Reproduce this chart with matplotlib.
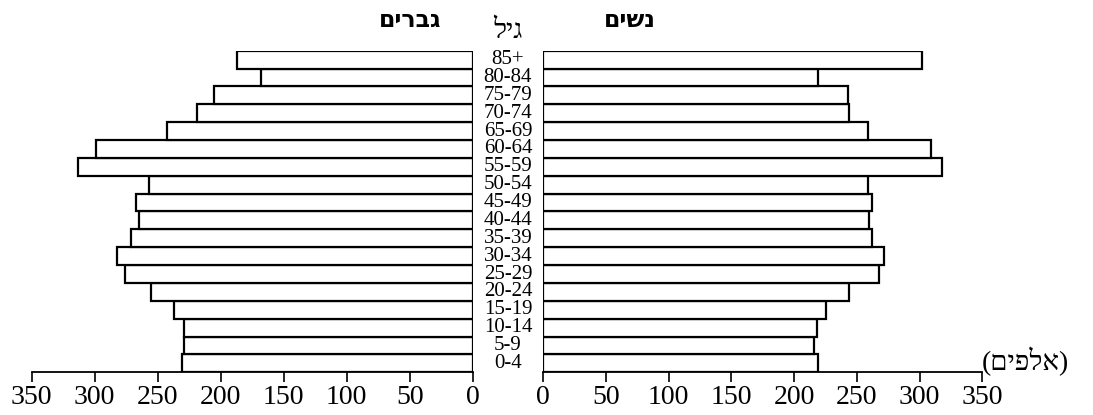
import matplotlib.pyplot as plt
import matplotlib.transforms as mtransforms

ages = ['0-4', '5-9', '10-14', '15-19', '20-24', '25-29', '30-34', '35-39', '40-44',
        '45-49', '50-54', '55-59', '60-64', '65-69', '70-74', '75-79', '80-84', '85+']
men = [231, 229, 229, 237, 255, 276, 282, 271, 265, 267, 257, 313, 299, 243, 219, 205, 168, 187]
women = [219, 216, 218, 225, 244, 268, 272, 262, 260, 262, 259, 318, 309, 259, 244, 243, 219, 302]
ticks = [0, 50, 100, 150, 200, 250, 300, 350]

# hebrew strings are stored in visual (left-to-right) order since matplotlib has no bidi
title_men = 'םירבג'
title_women = 'םישנ'
title_age = 'ליג'
unit_label = '(םיפלא)'

serif = ['Liberation Serif', 'DejaVu Serif']
W, H = 1093, 415

fig = plt.figure(figsize=(W / 100, H / 100), dpi=100)
top, bot = 50.7, 372.3
ax_l = fig.add_axes([31.7 / W, (H - bot) / H, 441 / W, (bot - top) / H])
ax_r = fig.add_axes([543.3 / W, (H - bot) / H, 439 / W, (bot - top) / H])

y = list(range(len(ages)))
ax_l.barh(y, men, height=1, color='white', edgecolor='black', linewidth=1.6)
ax_r.barh(y, women, height=1, color='white', edgecolor='black', linewidth=1.6)

for ax in (ax_l, ax_r):
    ax.set_ylim(-0.5, len(ages) - 0.5)
    ax.set_xticks(ticks)
    ax.set_xticklabels([str(t) for t in ticks], family=serif, fontsize=20)
    ax.set_yticks([])
    for s in ('top', 'left', 'right'):
        ax.spines[s].set_visible(False)
    ax.spines['bottom'].set_linewidth(1.3)
    ax.tick_params(axis='x', direction='out', length=7, width=1.2, pad=2)
    ax.patch.set_alpha(0)

ax_l.set_xlim(350, 0)
ax_r.set_xlim(0, 350)

# age labels in the gap between the two halves
tr = mtransforms.blended_transform_factory(fig.transFigure, ax_l.transData)
for i, a in enumerate(ages):
    ax_l.text(508 / W, i, a, transform=tr, ha='center', va='center',
              family=serif, fontsize=15, clip_on=False)

fig.text(410 / W, 1 - 20 / H, title_men, ha='center', va='center',
         family=['DejaVu Sans'], fontweight='bold', fontsize=17)
fig.text(630 / W, 1 - 20 / H, title_women, ha='center', va='center',
         family=['DejaVu Sans'], fontweight='bold', fontsize=17)
fig.text(508 / W, 1 - 32 / H, title_age, ha='center', va='center',
         family=serif, fontsize=20)
fig.text(982 / W, 1 - 361 / H, unit_label, ha='left', va='center',
         family=serif, fontsize=20)

fig.savefig('out.png', dpi=100)
